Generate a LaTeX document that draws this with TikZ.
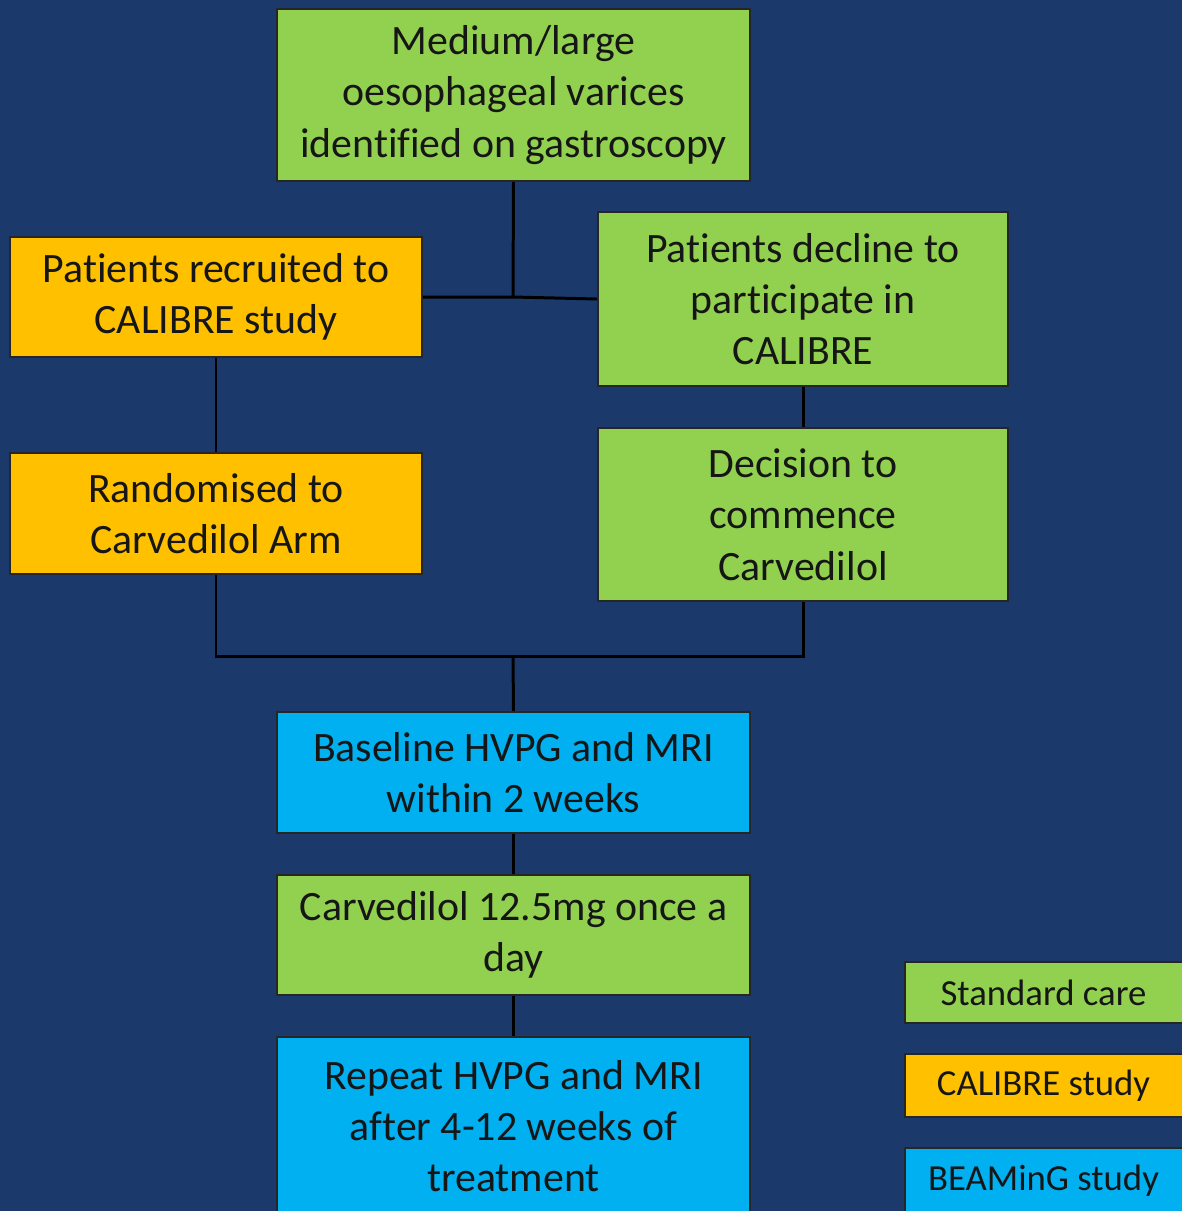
\documentclass[tikz,border=0pt]{standalone}
\usepackage{fontspec}
\setmainfont{Carlito}[Ligatures=NoCommon]
\definecolor{bg}{HTML}{1B3A6B}
\definecolor{sgreen}{HTML}{92D050}
\definecolor{sorange}{HTML}{FFC000}
\definecolor{sblue}{HTML}{00B0F0}
\definecolor{txt}{HTML}{161616}
\begin{document}
\begin{tikzpicture}[x=0.02cm,y=-0.02cm,
  box/.style={draw=black!85, line width=1.1pt, align=center, inner sep=0pt, text=txt,
    font=\fontsize{23.8}{29.2}\selectfont},
  gbox/.style={box, fill=sgreen},
  obox/.style={box, fill=sorange},
  bbox/.style={box, fill=sblue},
  legbox/.style={draw=black!85, line width=1.1pt, inner sep=0pt, text=txt,
    font=\fontsize{20.9}{25}\selectfont, minimum width=284*0.02cm},
  conn/.style={draw=black, line width=1.7pt}]
\fill[bg] (0,0) rectangle (1182,1211);
\useasboundingbox (0,0) rectangle (1182,1211);

\node[gbox, minimum width=473*0.02cm, minimum height=172*0.02cm] (top) at (513.5,95)
  {Medium/large\\oesophageal varices\\identified on gastroscopy};
\node[obox, minimum width=412*0.02cm, minimum height=120*0.02cm] (rec) at (216,297)
  {Patients recruited to\\CALIBRE study};
\node[gbox, minimum width=410*0.02cm, minimum height=174*0.02cm] (dec) at (803,299)
  {Patients decline to\\participate in\\CALIBRE};
\node[obox, minimum width=412*0.02cm, minimum height=121*0.02cm] (rand) at (216,513.5)
  {Randomised to\\Carvedilol Arm};
\node[gbox, minimum width=410*0.02cm, minimum height=173*0.02cm] (comm) at (803,514.5)
  {Decision to\\commence\\Carvedilol};
\node[bbox, minimum width=473*0.02cm, minimum height=121*0.02cm] (base) at (513.5,772.5)
  {Baseline HVPG and MRI\\within 2 weeks};
\node[gbox, minimum width=473*0.02cm, minimum height=120*0.02cm] (carv) at (513.5,935)
  {Carvedilol 12.5mg once a\\day};
\node[bbox, minimum width=473*0.02cm, minimum height=178*0.02cm] (rep) at (513.5,1126)
  {Repeat HVPG and MRI\\after 4-12 weeks of\\treatment};

\node[legbox, fill=sgreen, minimum height=61*0.02cm] (l1) at (1047,992.5) {\hspace*{-4pt}Standard care};
\node[legbox, fill=sorange, minimum height=63*0.02cm] (l2) at (1047,1085.5) {\hspace*{-4pt}CALIBRE study};
\node[legbox, fill=sblue, minimum height=66*0.02cm] (l3) at (1047,1181) {\hspace*{-4pt}BEAMinG study};

\coordinate (j1) at (513,297);
\coordinate (j2) at (513,656);
\draw[conn] (top.south) -- (j1);
\draw[conn] (rec.east) -- (j1) -- (dec.west);
\draw[conn] (rec.south) -- (rand.north);
\draw[conn] (dec.south) -- (comm.north);
\draw[conn] (rand.south) |- (j2) -| (comm.south);
\draw[conn] (j2) -- (base.north);
\draw[conn] (base.south) -- (carv.north);
\draw[conn] (carv.south) -- (rep.north);
\end{tikzpicture}
\end{document}
